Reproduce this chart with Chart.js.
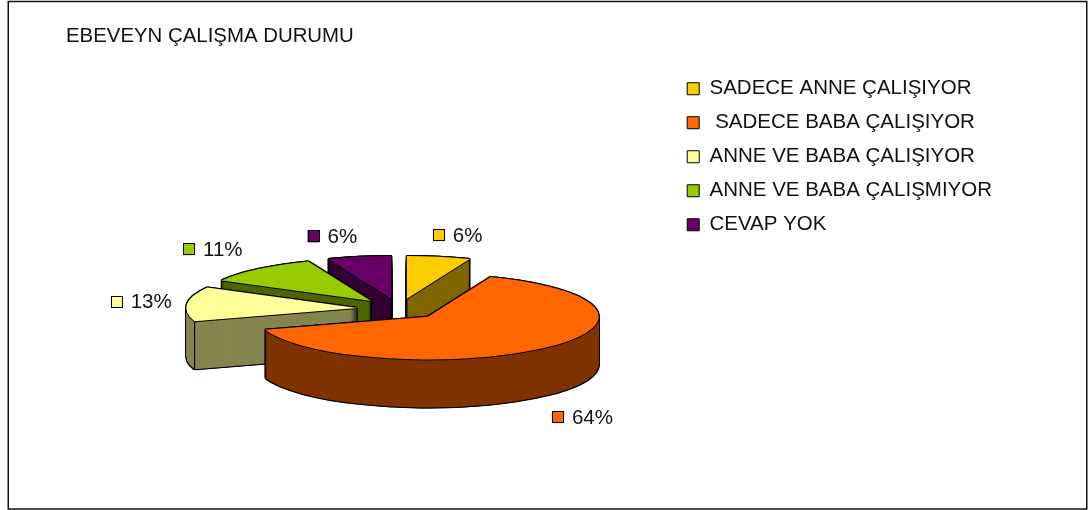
<!DOCTYPE html>
<html>
<head>
<meta charset="utf-8">
<title>Ebeveyn Çalışma Durumu</title>
<script src="https://cdn.jsdelivr.net/npm/chart.js@4"></script>
<style>
    html, body { margin: 0; padding: 0; background: #fff; }
    canvas { display: block; }
</style>
</head>
<body>
<canvas id="parentChart" width="1088" height="510"></canvas>
<script>
// --- Data ---
const chartTitle = 'EBEVEYN ÇALIŞMA DURUMU';
const categories = ['SADECE ANNE ÇALIŞIYOR', ' SADECE BABA ÇALIŞIYOR', 'ANNE VE BABA ÇALIŞIYOR', 'ANNE VE BABA ÇALIŞMIYOR', 'CEVAP YOK'];
const percentages = [6, 64, 13, 11, 6];
const topColors = ['#FFCC00', '#FF6600', '#FFFF99', '#99CC00', '#660066'];
const sideColors = ['#806600', '#803300', '#85854F', '#4D6600', '#330033'];

// --- 3D look of the pie ---
const pieX = 399, pieY = 309;   // centre on the page
const squash = 0.25;            // ellipse height / width
const depth = 48;               // height of the pie wall
const explode = 42;             // how far each slice is pulled out
const drawOrder = [4, 0, 3, 2, 1];  // back to front
const labelNudge = [[9, 2], [2, 4], [6, 0], [-11, -2], [-17, 3]];

// draw one arc with a flat colour, moved by (dx, dy) on the page
function paintArc(ctx, arc, color, dx, dy) {
    const mid = (arc.startAngle + arc.endAngle) / 2;
    const saved = arc.options;
    arc.options = Object.assign({}, saved, { backgroundColor: color, borderWidth: 0, offset: 0, spacing: 0 });
    ctx.save();
    ctx.translate(pieX + dx, pieY + dy);
    ctx.scale(1, squash);
    ctx.translate(Math.cos(mid) * explode - arc.x, Math.sin(mid) * explode - arc.y);
    arc.draw(ctx);
    ctx.restore();
    arc.options = saved;
}

// page position of a point of the slice, angle in canvas radians
function slicePoint(arc, angle, radius) {
    const mid = (arc.startAngle + arc.endAngle) / 2;
    return {
        x: pieX + Math.cos(mid) * explode + Math.cos(angle) * radius,
        y: pieY + (Math.sin(mid) * explode + Math.sin(angle) * radius) * squash
    };
}

// is a page point on the slice's top face?
function onTop(arc, x, y) {
    const tip = slicePoint(arc, 0, 0);
    const dx = x - tip.x, dy = (y - tip.y) / squash;
    if (Math.hypot(dx, dy) > arc.outerRadius) return false;
    let angle = Math.atan2(dy, dx);
    while (angle < arc.startAngle) angle += Math.PI * 2;
    return angle <= arc.endAngle;
}

const pie3d = {
    id: 'pie3d',
    afterLayout(chart) {
        // legend sits beside the pie, below the title line
        chart.legend.top += 65;
        chart.legend.left += 1;
    },
    beforeDraw(chart) {
        const ctx = chart.ctx;
        ctx.save();
        ctx.fillStyle = '#fff';
        ctx.fillRect(0, 0, chart.width, chart.height);
        ctx.strokeStyle = '#111';
        ctx.lineWidth = 1.5;
        ctx.strokeRect(8.25, 1.5, 1078.5, 507.5);
        ctx.restore();
    },
    beforeDatasetsDraw(chart) {
        const ctx = chart.ctx;
        const arcs = chart.getDatasetMeta(0).data;

        drawOrder.forEach(i => {
            const arc = arcs[i];

            // black outline of wall and top
            for (let d = -1; d <= depth + 1; d += 1) {
                paintArc(ctx, arc, '#000', -1, d);
                paintArc(ctx, arc, '#000', 1, d);
            }
            // wall
            for (let d = depth; d >= 1; d -= 1) {
                paintArc(ctx, arc, sideColors[i], 0, d);
            }
            // vertical edges, only where the wall really starts at the corner
            const corners = [
                slicePoint(arc, arc.startAngle, 0),
                slicePoint(arc, arc.startAngle, arc.outerRadius),
                slicePoint(arc, arc.endAngle, arc.outerRadius)
            ];
            ctx.save();
            ctx.strokeStyle = '#000';
            ctx.lineWidth = 1.2;
            corners.forEach(p => {
                if (onTop(arc, p.x, p.y + 3)) return;
                ctx.beginPath();
                ctx.moveTo(p.x, p.y);
                ctx.lineTo(p.x, p.y + depth);
                ctx.stroke();
            });
            ctx.restore();
            // top
            paintArc(ctx, arc, '#000', -1, 0);
            paintArc(ctx, arc, '#000', 1, 0);
            paintArc(ctx, arc, '#000', 0, -1);
            paintArc(ctx, arc, '#000', 0, 1);
            paintArc(ctx, arc, topColors[i], 0, 0);
        });
        return false;
    },
    afterDraw(chart) {
        // percent labels with their small colour keys
        const ctx = chart.ctx;
        const arcs = chart.getDatasetMeta(0).data;
        ctx.save();
        ctx.font = '20.5px "Liberation Sans"';
        ctx.textBaseline = 'middle';
        ctx.textAlign = 'left';
        arcs.forEach((arc, i) => {
            const mid = (arc.startAngle + arc.endAngle) / 2;
            const dirX = Math.cos(mid), dirY = Math.sin(mid);
            const text = percentages[i] + '%';
            const textWidth = ctx.measureText(text).width;
            const cx = pieX + dirX * 265 + labelNudge[i][0];
            const cy = pieY + dirY * 77 + (dirY > 0 ? depth : 0) + labelNudge[i][1];
            const left = cx - (20 + textWidth) / 2;
            ctx.fillStyle = topColors[i];
            ctx.fillRect(left, cy - 6, 12, 12);
            ctx.strokeStyle = '#000';
            ctx.lineWidth = 1;
            ctx.strokeRect(Math.round(left) + 0.5, Math.round(cy - 6) + 0.5, 11, 11);
            ctx.fillStyle = '#111';
            ctx.fillText(text, left + 20, cy + 1);
        });
        ctx.restore();
    }
};

Chart.defaults.font.family = '"Liberation Sans", Arial, sans-serif';
Chart.defaults.color = '#111';

new Chart(document.getElementById('parentChart'), {
    type: 'pie',
    data: {
        labels: categories,
        datasets: [{
            data: percentages,
            backgroundColor: topColors,
            borderColor: '#000',
            borderWidth: 1
        }]
    },
    options: {
        responsive: false,
        animation: false,
        radius: 171,
        layout: { padding: { left: 66, right: 87, top: 0, bottom: 0 } },
        plugins: {
            tooltip: { enabled: false },
            title: {
                display: true,
                text: chartTitle,
                align: 'start',
                color: '#111',
                font: { size: 20.4, weight: 'normal' },
                padding: { top: 24, bottom: 16 }
            },
            legend: {
                position: 'right',
                align: 'start',
                labels: {
                    boxWidth: 12,
                    boxHeight: 12,
                    padding: 13.5,
                    color: '#111',
                    font: { size: 20.5 }
                }
            }
        }
    },
    plugins: [pie3d]
});
</script>
</body>
</html>
